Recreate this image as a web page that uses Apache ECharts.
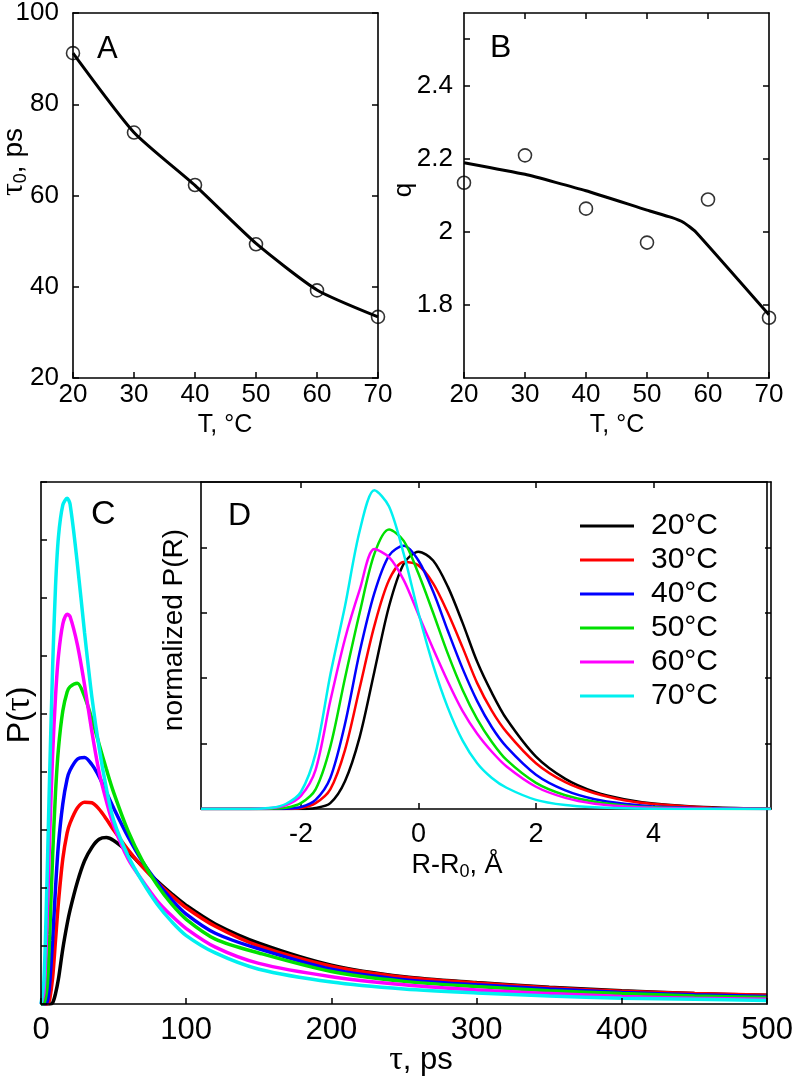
<!DOCTYPE html>
<html><head><meta charset="utf-8">
<script src="https://cdn.jsdelivr.net/npm/echarts@6/dist/echarts.min.js"></script>
<style>html,body{margin:0;padding:0;background:#fff}#c{width:796px;height:1082px}</style>
</head><body><div id="c"></div>
<script>
// ---------- data ----------
const tempT = [20, 30, 40, 50, 60, 70];
const tau0Points = [91.2, 73.8, 62.3, 49.3, 39.2, 33.4];
const tau0Fit = [91.2, 73.8, 62.2, 49.5, 39.3, 33.4];
const qPoints = [2.135, 2.21, 2.064, 1.971, 2.089, 1.765];
const qFitT = [20, 30, 40, 50, 54, 56, 58, 70];
const qFit = [2.19, 2.158, 2.113, 2.06, 2.04, 2.026, 2.0, 1.773];

const seriesNames = ['20°C', '30°C', '40°C', '50°C', '60°C', '70°C'];

// panel C : P(tau)
const tauX = [0, 2, 4, 5, 6, 8, 10, 12, 15, 18, 20, 25, 30, 35, 40, 45, 50, 60, 70, 80, 90, 100, 120, 150, 200, 250, 300, 350, 400, 450, 500];
const pTau20 = [0, 0, 0, 0, 0, 0.02, 0.18, 0.43, 0.95, 1.38, 1.62, 2.1, 2.47, 2.7, 2.84, 2.87, 2.82, 2.62, 2.37, 2.12, 1.9, 1.7, 1.38, 1.05, 0.67, 0.47, 0.37, 0.29, 0.23, 0.18, 0.15];
const pTau30 = [0, 0, 0, 0.02, 0.08, 0.45, 1.1, 1.75, 2.5, 2.95, 3.12, 3.38, 3.48, 3.47, 3.36, 3.19, 3.0, 2.66, 2.36, 2.1, 1.87, 1.66, 1.34, 1.0, 0.65, 0.46, 0.36, 0.28, 0.22, 0.18, 0.15];
const pTau40 = [0, 0, 0.02, 0.12, 0.35, 1.1, 2.0, 2.75, 3.45, 3.88, 4.03, 4.22, 4.25, 4.13, 3.92, 3.65, 3.38, 2.88, 2.45, 2.1, 1.8, 1.55, 1.22, 0.95, 0.6, 0.42, 0.33, 0.26, 0.2, 0.16, 0.13];
const pTau50 = [0, 0.01, 0.25, 0.6, 1.2, 2.55, 3.65, 4.4, 5.05, 5.38, 5.47, 5.53, 5.3, 4.92, 4.48, 4.05, 3.65, 2.98, 2.46, 2.05, 1.72, 1.46, 1.12, 0.88, 0.56, 0.39, 0.3, 0.23, 0.18, 0.14, 0.11];
const pTau60 = [0, 0.2, 1.3, 2.1, 2.9, 4.3, 5.3, 6.0, 6.55, 6.72, 6.68, 6.2, 5.5, 4.7, 4.0, 3.5, 3.08, 2.5, 2.12, 1.78, 1.52, 1.3, 0.98, 0.7, 0.47, 0.33, 0.24, 0.18, 0.13, 0.1, 0.08];
const pTau70 = [0, 0.4, 2.0, 3.0, 4.0, 5.8, 7.2, 8.05, 8.6, 8.72, 8.62, 7.6, 6.4, 5.3, 4.42, 3.72, 3.17, 2.55, 2.1, 1.72, 1.42, 1.18, 0.88, 0.6, 0.38, 0.26, 0.19, 0.14, 0.1, 0.08, 0.06];

// panel D : normalized P(R)
const rX = [-3.7, -3, -2.5, -2.25, -2, -1.75, -1.5, -1.25, -1, -0.75, -0.5, -0.25, 0, 0.25, 0.5, 0.75, 1, 1.25, 1.5, 2, 2.5, 3, 3.5, 4, 5, 6];
const pR20 = [0, 0, 0, 0, 0, 0.003, 0.018, 0.085, 0.22, 0.42, 0.62, 0.75, 0.787, 0.76, 0.68, 0.57, 0.45, 0.355, 0.275, 0.16, 0.092, 0.052, 0.03, 0.017, 0.005, 0.001];
const pR30 = [0, 0, 0, 0, 0.003, 0.018, 0.06, 0.18, 0.37, 0.56, 0.7, 0.755, 0.745, 0.69, 0.6, 0.495, 0.385, 0.3, 0.235, 0.14, 0.082, 0.048, 0.027, 0.015, 0.004, 0.001];
const pR40 = [0, 0, 0, 0.001, 0.006, 0.028, 0.095, 0.26, 0.48, 0.66, 0.775, 0.805, 0.76, 0.665, 0.545, 0.43, 0.33, 0.25, 0.19, 0.105, 0.057, 0.03, 0.016, 0.008, 0.002, 0];
const pR50 = [0, 0, 0.001, 0.004, 0.018, 0.06, 0.19, 0.4, 0.6, 0.78, 0.855, 0.82, 0.72, 0.6, 0.475, 0.365, 0.275, 0.205, 0.15, 0.08, 0.042, 0.022, 0.011, 0.005, 0.001, 0];
const pR60 = [0, 0, 0.003, 0.012, 0.04, 0.12, 0.33, 0.52, 0.67, 0.795, 0.77, 0.7, 0.595, 0.49, 0.39, 0.3, 0.23, 0.175, 0.13, 0.068, 0.034, 0.016, 0.008, 0.004, 0.001, 0];
const pR70 = [0, 0, 0.004, 0.016, 0.052, 0.17, 0.41, 0.62, 0.85, 0.975, 0.925, 0.78, 0.6, 0.44, 0.31, 0.21, 0.14, 0.095, 0.065, 0.028, 0.012, 0.005, 0.002, 0.001, 0, 0];

// tick values
const tTicks = [20, 30, 40, 50, 60, 70];
const tau0Ticks = [20, 40, 60, 80, 100];
const qLabelTicks = [1.8, 2, 2.2, 2.4];
const qTickMarks = [1.8, 2, 2.2, 2.4, 2.53];
const rTicks = [-2, 0, 2, 4];
const normTicks = [0.2, 0.4, 0.6, 0.8];

const pTauAll = [pTau20, pTau30, pTau40, pTau50, pTau60, pTau70];
const pRAll = [pR20, pR30, pR40, pR50, pR60, pR70];
const lineColors = ['#000000', '#ff0000', '#0000ff', '#00e000', '#ff00ff', '#00f0f0'];

// ---------- chart ----------
const SANS = 'Liberation Sans, Arial, Helvetica, sans-serif';
const SERIF = 'Liberation Serif, DejaVu Serif, serif';
const chart = echarts.init(document.getElementById('c'), null, {renderer: 'canvas'});

function axis(o) {
  const base = {
    type: 'value',
    gridIndex: o.grid,
    position: o.position,
    min: o.min, max: o.max,
    interval: o.interval,
    axisLine: {show: true, onZero: false, lineStyle: {color: '#000', width: 1.6}},
    splitLine: {show: false},
    axisTick: {show: o.ticks !== false, inside: true, length: 6, lineStyle: {color: '#000', width: 1.5}},
    axisLabel: {show: !!o.labels, color: '#000', fontFamily: SANS, fontSize: o.fontSize || 24, margin: o.margin || 8},
    z: 5
  };
  if (o.tickValues) base.axisTick.customValues = o.tickValues;
  if (o.labelValues) base.axisLabel.customValues = o.labelValues;
  return base;
}

const xAxes = [
  axis({grid: 0, position: 'bottom', min: 20, max: 70, interval: 10, labels: true, fontSize: 26, margin: 4}),
  axis({grid: 0, position: 'top', min: 20, max: 70, interval: 10, ticks: false}),
  axis({grid: 1, position: 'bottom', min: 20, max: 70, interval: 10, labels: true, fontSize: 26, margin: 4}),
  axis({grid: 1, position: 'top', min: 20, max: 70, interval: 10, tickValues: [30, 40, 50, 60]}),
  axis({grid: 2, position: 'bottom', min: 0, max: 500, interval: 100, labels: true, fontSize: 31, margin: 11}),
  axis({grid: 2, position: 'top', min: 0, max: 500, interval: 100, ticks: false}),
  axis({grid: 3, position: 'bottom', min: -3.7, max: 6, labels: true, fontSize: 27, margin: 12, tickValues: rTicks, labelValues: rTicks}),
  axis({grid: 3, position: 'top', min: -3.7, max: 6, tickValues: rTicks})
];
const yAxes = [
  axis({grid: 0, position: 'left', min: 20, max: 100, interval: 20, labels: true, fontSize: 26, margin: 14}),
  axis({grid: 0, position: 'right', min: 20, max: 100, interval: 20}),
  axis({grid: 1, position: 'left', min: 1.6, max: 2.6, labels: true, fontSize: 26, margin: 11, tickValues: qTickMarks, labelValues: qLabelTicks}),
  axis({grid: 1, position: 'right', min: 1.6, max: 2.6, tickValues: qLabelTicks}),
  axis({grid: 2, position: 'left', min: 0, max: 9, interval: 1}),
  axis({grid: 2, position: 'right', min: 0, max: 9, interval: 1, ticks: false}),
  axis({grid: 3, position: 'left', min: 0, max: 1, tickValues: normTicks}),
  axis({grid: 3, position: 'right', min: 0, max: 1, tickValues: normTicks})
];

const series = [];
series.push({type: 'line', xAxisIndex: 0, yAxisIndex: 0, data: tempT.map((t, i) => [t, tau0Fit[i]]),
  smooth: 0.2, symbol: 'none', lineStyle: {color: '#000', width: 3}, z: 3, silent: true});
series.push({type: 'scatter', xAxisIndex: 0, yAxisIndex: 0, data: tempT.map((t, i) => [t, tau0Points[i]]),
  symbol: 'circle', symbolSize: 13, itemStyle: {color: 'rgba(0,0,0,0)', borderColor: '#000', borderWidth: 1.6}, z: 4, silent: true});
series.push({type: 'line', xAxisIndex: 2, yAxisIndex: 2, data: qFitT.map((t, i) => [t, qFit[i]]),
  smooth: 0.15, symbol: 'none', lineStyle: {color: '#000', width: 3}, z: 3, silent: true});
series.push({type: 'scatter', xAxisIndex: 2, yAxisIndex: 2, data: tempT.map((t, i) => [t, qPoints[i]]),
  symbol: 'circle', symbolSize: 13, itemStyle: {color: 'rgba(0,0,0,0)', borderColor: '#000', borderWidth: 1.6}, z: 4, silent: true});
pTauAll.forEach((arr, k) => {
  series.push({type: 'line', name: seriesNames[k], xAxisIndex: 4, yAxisIndex: 4,
    data: tauX.map((t, i) => [t, arr[i]]), smooth: 0.3, symbol: 'none', showSymbol: false,
    lineStyle: {color: lineColors[k], width: 3.5}, itemStyle: {color: lineColors[k]}, z: 2, silent: true});
});
pRAll.forEach((arr, k) => {
  series.push({type: 'line', name: seriesNames[k], xAxisIndex: 6, yAxisIndex: 6,
    data: rX.map((t, i) => [t, arr[i]]), smooth: 0.3, symbol: 'none', showSymbol: false,
    lineStyle: {color: lineColors[k], width: 2.5}, itemStyle: {color: lineColors[k]}, z: 6, silent: true});
});

function txt(x, y, text, size, opts) {
  opts = opts || {};
  return {type: 'text', x: x, y: y, rotation: opts.rot || 0, z: 100,
    style: {text: text, fill: '#000', font: (size) + 'px ' + (opts.family || SANS),
      align: opts.align || 'center', verticalAlign: opts.va || 'middle', rich: opts.rich}};
}

const graphics = [
  txt(97, 49, 'A', 31, {align: 'left'}),
  txt(490, 48, 'B', 32, {align: 'left'}),
  txt(91, 515, 'C', 34, {align: 'left'}),
  txt(228, 516, 'D', 32, {align: 'left'}),
  txt(225, 425, 'T, °C', 25),
  txt(617, 425, 'T, °C', 25),
  txt(404, 190, 'q', 26, {rot: Math.PI / 2}),
  txt(14, 162, '{t|τ}{s|0}{n|, ps}', 28, {rot: Math.PI / 2, rich: {
    t: {fontFamily: SERIF, fontSize: 32, fill: '#000'},
    s: {fontFamily: SANS, fontSize: 18, fill: '#000', verticalAlign: 'bottom', padding: [10, 0, 0, 0]},
    n: {fontFamily: SANS, fontSize: 28, fill: '#000'}}}),
  txt(20, 715, '{n|P(}{t|τ}{n|)}', 32, {rot: Math.PI / 2, rich: {
    t: {fontFamily: SERIF, fontSize: 35, fill: '#000'},
    n: {fontFamily: SANS, fontSize: 32, fill: '#000'}}}),
  txt(421, 1060, '{t|τ}{n|, ps}', 31, {rich: {
    t: {fontFamily: SERIF, fontSize: 34, fill: '#000'},
    n: {fontFamily: SANS, fontSize: 31, fill: '#000'}}}),
  txt(174, 630, 'normalized P(R)', 28, {rot: Math.PI / 2}),
  txt(457, 866, '{n|R-R}{s|0}{n|, Å}', 27, {rich: {
    n: {fontFamily: SANS, fontSize: 27, fill: '#000'},
    s: {fontFamily: SANS, fontSize: 18, fill: '#000', padding: [12, 0, 0, 0]}}})
];

chart.setOption({
  animation: false,
  backgroundColor: '#fff',
  grid: [
    {left: 73, top: 13, width: 305, height: 365, containLabel: false},
    {left: 464, top: 13, width: 305, height: 365, containLabel: false},
    {left: 41, top: 482, width: 730, height: 522, containLabel: false},
    {left: 201, top: 482, width: 570, height: 327, containLabel: false, show: true, backgroundColor: '#fff', borderWidth: 0, z: 4}
  ],
  xAxis: xAxes,
  yAxis: yAxes,
  legend: {
    data: seriesNames, orient: 'vertical', left: 575, top: 506,
    itemWidth: 54, itemHeight: 3, itemGap: 4, selectedMode: false, icon: 'rect',
    textStyle: {fontFamily: SANS, fontSize: 30, color: '#000', lineHeight: 30, padding: [0, 0, 0, 12]},
    z: 10
  },
  graphic: graphics,
  series: series
});
</script>
</body></html>
